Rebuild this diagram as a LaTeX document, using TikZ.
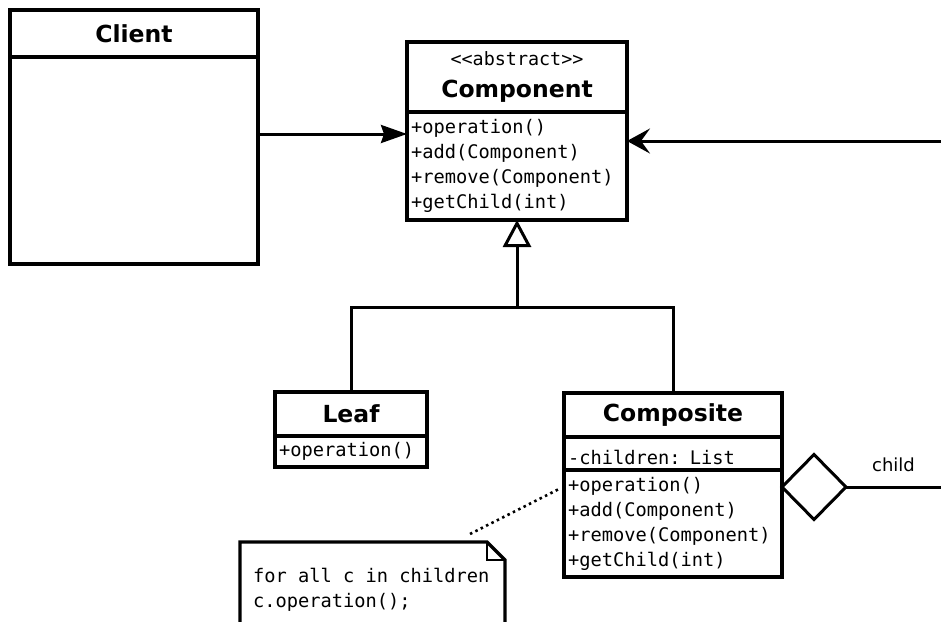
\documentclass[tikz,border=0pt]{standalone}
\usepackage{fontspec}
\setmainfont{DejaVu Sans}
\setmonofont{DejaVu Sans Mono}
\usetikzlibrary{arrows.meta,shapes.geometric,positioning}

% code font with full-width spaces
\newcommand\codefont{\ttfamily\fontsize{18.7}{25}\selectfont}
\newcommand\codesp{\spaceskip=0.602em\relax}

\begin{document}
\begin{tikzpicture}[x=1pt,y=-1pt,
    classhead/.style={rectangle,draw,line width=3.2pt,outer sep=0pt,inner sep=0pt,align=center,font=\fontsize{23.5}{27}\selectfont\bfseries},
    classbody/.style={rectangle,draw,line width=3.2pt,outer sep=0pt,inner xsep=4pt,inner ysep=0pt,align=left,font=\codefont},
    assoc/.style={line width=3pt,-{Stealth[length=26pt,width=18pt,inset=3pt]}},
    navig/.style={line width=3pt,-{Stealth[length=23pt,width=25pt,inset=9pt]}},
    inherit/.style={line width=3pt,-{Triangle[open,length=27pt,width=28pt]}},
    aggr/.style={diamond,draw,line width=3pt,outer sep=0pt,inner sep=0pt,minimum width=64pt,minimum height=65pt},
    notebox/.style={rectangle,inner xsep=13pt,inner ysep=0pt,outer sep=0pt,align=left,font=\codefont}
]

\useasboundingbox (0,0) rectangle (941,621);
\clip (0,0) rectangle (941,621);

% === Client ===
\node[classhead,anchor=north west,minimum width=248pt,minimum height=47pt] (clienthead) at (10,10) {Client};
\node[classbody,below=0pt of clienthead,minimum width=248pt,minimum height=207pt,text width=240pt] (clientbody) {};

% === Component ===
\node[classhead,anchor=north west,minimum width=220pt,minimum height=70pt] (comphead) at (407,42) {%
    {\mdseries\ttfamily\fontsize{18.4}{20}\selectfont <{}<abstract>{}>}\\[7pt]
    \raisebox{2pt}{Component}};
\node[classbody,below=0pt of comphead,minimum width=220pt,minimum height=108pt,text width=212pt] (compbody) {%
    +operation()\\
    +add(Component)\\
    +remove(Component)\\
    +getChild(int)};

% === Leaf ===
\node[classhead,anchor=north west,minimum width=152pt,minimum height=44pt] (leafhead) at (275,392) {Leaf};
\node[classbody,below=0pt of leafhead,minimum width=152pt,minimum height=31pt,text width=144pt] (leafbody) {+operation()};

% === Composite ===
\node[classhead,anchor=north west,minimum width=218pt,minimum height=44pt] (cmpsthead) at (564,393) {Composite};
\node[classbody,below=0pt of cmpsthead,minimum width=218pt,minimum height=33pt,text width=210pt] (cmpstattr) {\raisebox{-11pt}[0pt][0pt]{\codesp -children: List}};
\node[classbody,below=0pt of cmpstattr,minimum width=218pt,minimum height=107pt,text width=210pt] (cmpstmeth) {%
    +operation()\\
    +add(Component)\\
    +remove(Component)\\
    +getChild(int)};

% === Client uses Component ===
\draw[assoc] ([yshift=26.5pt]clientbody.east) -- ([yshift=26.5pt]clientbody.east -| compbody.west);

% === child link back to Component ===
\coordinate (childin) at (941,141);
\draw[navig] (childin) -- (childin -| compbody.east);

% === Inheritance ===
\coordinate (branch) at (517,307);
\draw[line width=3pt] (leafhead.north) |- (branch) -| (cmpsthead.north);
\draw[inherit] (branch) -- (compbody.south);

% === Aggregation ===
\node[aggr,anchor=west] (agg) at ([yshift=36.5pt]cmpstmeth.east) {};
\coordinate (childout) at (941,487);
\draw[line width=3pt] (agg.east) -- node[midway,yshift=22pt,font=\fontsize{18}{20}\selectfont] (childlabel) {child} (childout);

% === Note ===
\node[notebox,anchor=north west,minimum width=265pt,minimum height=95pt,text width=239pt] (note) at (240,542) {%
    \codesp for all c in children\\
    c.operation();};
\draw[line width=3.2pt,line join=miter] (note.south west) -- (note.north west) -- ([xshift=-18pt]note.north east)
    -- ([yshift=-18pt]note.north east) -- (note.south east);
\draw[line width=1.6pt] ([xshift=-18pt]note.north east) |- ([yshift=-18pt]note.north east);
\draw[line width=2.6pt,dash pattern=on 2.5pt off 3.5pt] ([xshift=-35pt,yshift=8pt]note.north east) -- ([xshift=-4pt,yshift=35pt]cmpstmeth.west);

\end{tikzpicture}
\end{document}
